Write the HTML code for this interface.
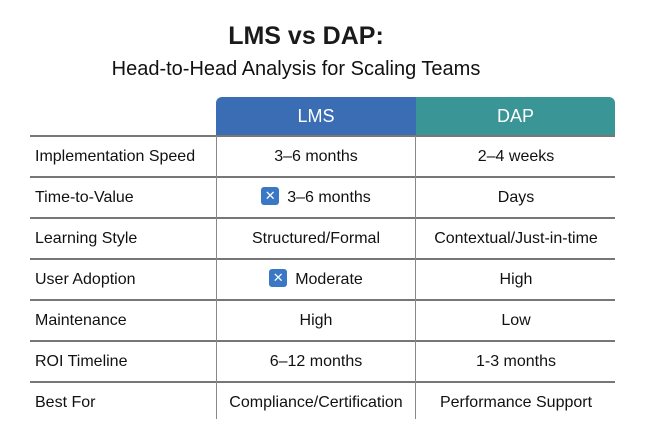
<!DOCTYPE html>
<html><head><style>
body{margin:0;width:646px;height:431px;background:#fff;font-family:"Liberation Sans",sans-serif;color:#111;position:relative;overflow:hidden}
.a{position:absolute}
.t{left:0;width:620px;text-align:center}
.h{top:97px;height:39px;color:#fff;font-size:18px;line-height:39px;text-align:center}
.hl{position:absolute;left:30px;width:585px;height:1.5px;background:#777}
.vl{position:absolute;top:136px;height:283px;width:1px;background:#888}
.r{position:absolute;left:0;width:646px;height:41px;font-size:16px;line-height:41px}
.r span{position:absolute;text-align:center}
.c0{left:35px;text-align:left!important}
.c1{left:216px;width:200px}
.c2{left:416px;width:200px}
.x{display:inline-block;font-style:normal;width:18px;height:18px;background:#3a78c6;border-radius:3px;color:#fff;font-size:13px;line-height:18px;text-align:center;vertical-align:middle;margin-right:8px;margin-top:-3px}
</style></head><body>
<div class="a t" style="top:22px;font-size:25px;font-weight:bold;color:#1a1a1a;left:-4px">LMS vs DAP:</div>
<div class="a t" style="top:58px;font-size:20px;left:-14px">Head-to-Head Analysis for Scaling Teams</div>
<div class="a h" style="left:216px;width:200px;background:#3a6db4;border-radius:6px 0 0 0">LMS</div>
<div class="a h" style="left:416px;width:199px;background:#3a9596;border-radius:0 6px 0 0">DAP</div>
<div class="hl" style="top:135px"></div>
<div class="hl" style="top:176px"></div>
<div class="hl" style="top:217px"></div>
<div class="hl" style="top:258px"></div>
<div class="hl" style="top:299px"></div>
<div class="hl" style="top:340px"></div>
<div class="hl" style="top:381px"></div>
<div class="vl" style="left:216px"></div>
<div class="vl" style="left:415px"></div>
<div class="r" style="top:136px"><span class="c0">Implementation Speed</span><span class="c1">3–6 months</span><span class="c2">2–4 weeks</span></div>
<div class="r" style="top:177px"><span class="c0">Time-to-Value</span><span class="c1"><i class="x">✕</i>3–6 months</span><span class="c2">Days</span></div>
<div class="r" style="top:218px"><span class="c0">Learning Style</span><span class="c1">Structured/Formal</span><span class="c2">Contextual/Just-in-time</span></div>
<div class="r" style="top:259px"><span class="c0">User Adoption</span><span class="c1"><i class="x">✕</i>Moderate</span><span class="c2">High</span></div>
<div class="r" style="top:300px"><span class="c0">Maintenance</span><span class="c1">High</span><span class="c2">Low</span></div>
<div class="r" style="top:341px"><span class="c0">ROI Timeline</span><span class="c1">6–12 months</span><span class="c2">1-3 months</span></div>
<div class="r" style="top:382px"><span class="c0">Best For</span><span class="c1">Compliance/Certification</span><span class="c2">Performance Support</span></div>
</body></html>
